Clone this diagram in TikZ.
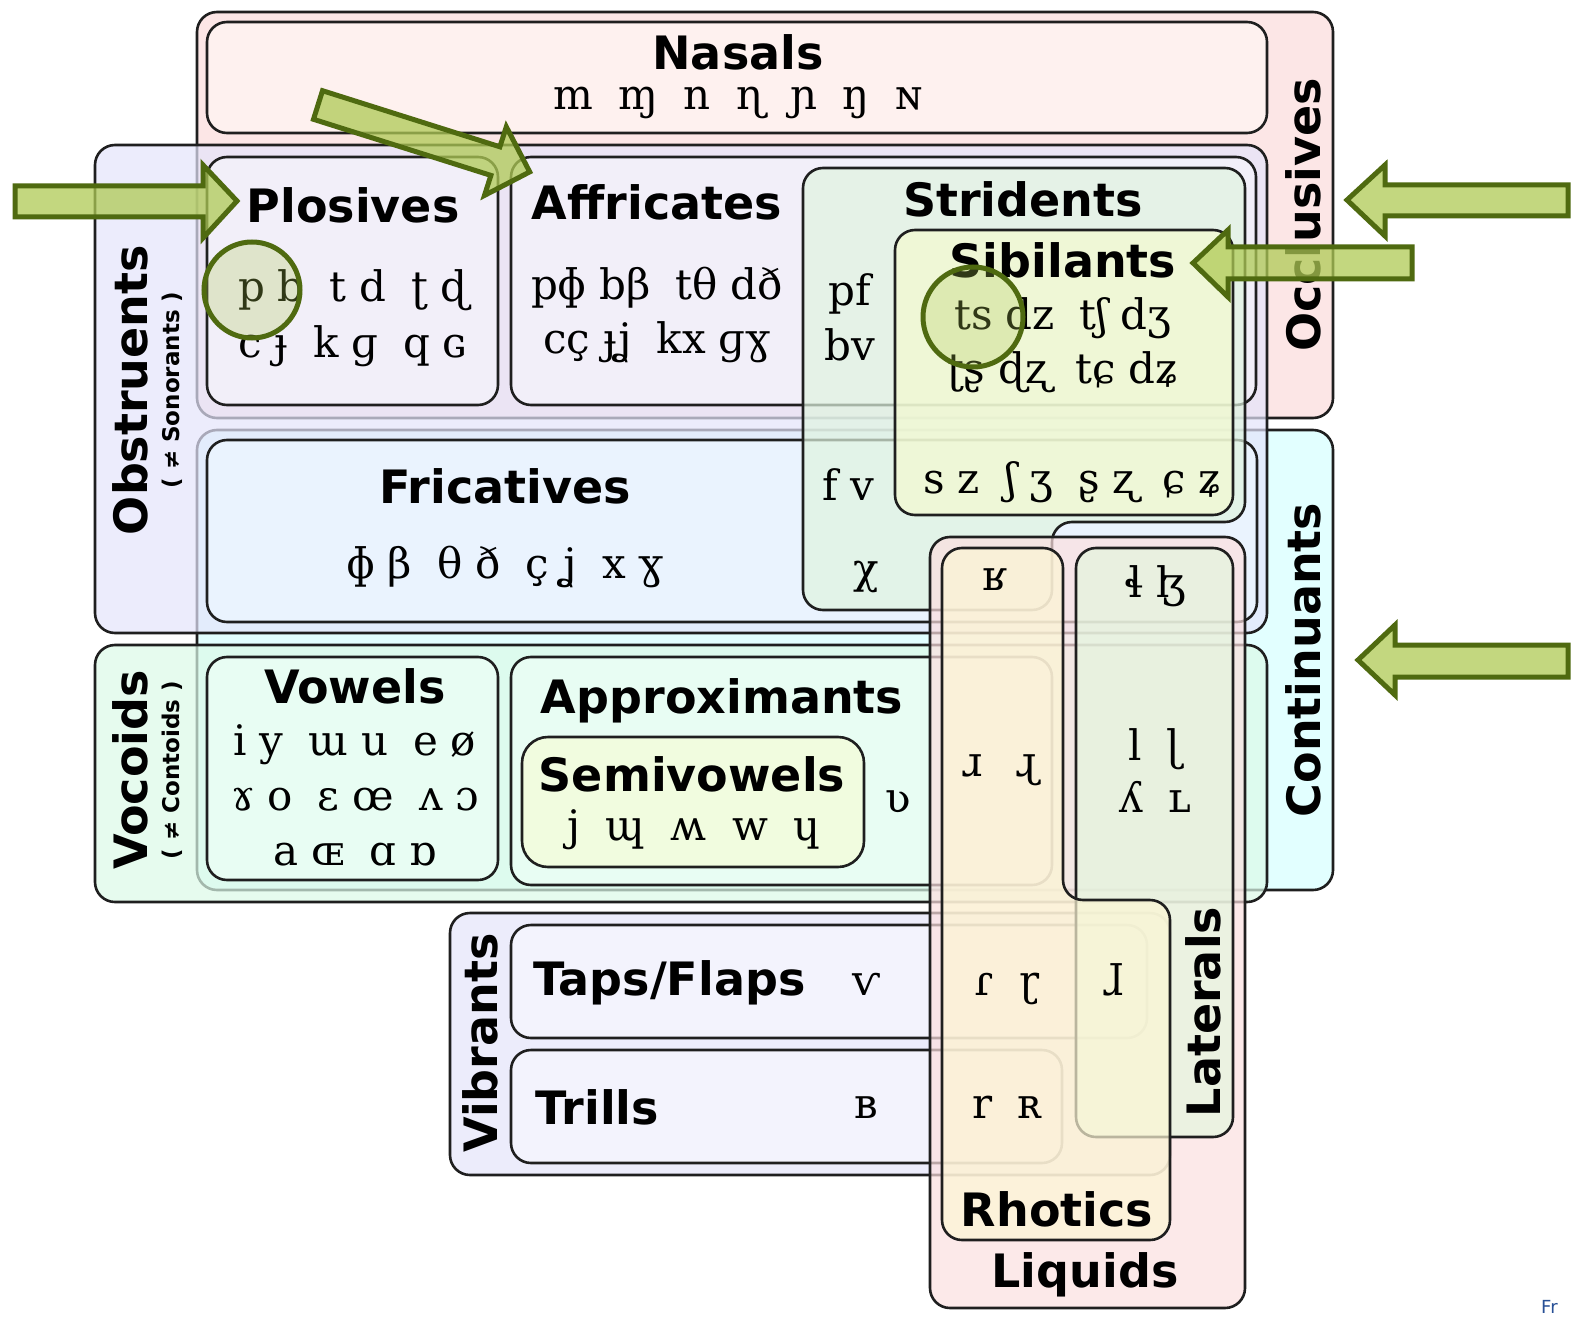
\documentclass[tikz,border=0pt]{standalone}
\usepackage{fontspec}
\setmainfont{DejaVu Sans}
\newfontfamily\ipa{DejaVu Serif}
\newcommand{\gapA}{\hspace{0.3em}}
\newcommand{\gapB}{\hspace{0.6em}}
\definecolor{cOcc}{RGB}{252,220,220}
\definecolor{cNas}{RGB}{255,246,244}
\definecolor{cObs}{RGB}{228,228,251}
\definecolor{cCon}{RGB}{214,255,255}
\definecolor{cVoc}{RGB}{220,250,232}
\definecolor{cPlo}{RGB}{246,244,252}
\definecolor{cStr}{RGB}{224,244,224}
\definecolor{cSib}{RGB}{244,250,208}
\definecolor{cFri}{RGB}{238,246,255}
\definecolor{cVow}{RGB}{238,254,246}
\definecolor{cSem}{RGB}{246,252,215}
\definecolor{cVib}{RGB}{228,228,250}
\definecolor{cTap}{RGB}{246,246,255}
\definecolor{cLiq}{RGB}{252,224,224}
\definecolor{cRho}{RGB}{252,246,212}
\definecolor{cLat}{RGB}{228,246,222}
\definecolor{arrF}{RGB}{175,202,85}
\definecolor{arrD}{RGB}{79,106,16}
\definecolor{frBlue}{RGB}{40,80,150}
\begin{document}
\begin{tikzpicture}[x=1pt,y=-1pt,
  box/.style={draw=black!88, line width=2.6pt, rounded corners=20pt, fill opacity=0.7},
  ttl/.style={font=\bfseries\fontsize{46}{50}\selectfont, inner sep=0pt},
  sml/.style={font=\bfseries\fontsize{23}{26}\selectfont, inner sep=0pt},
  ipasty/.style={font=\ipa\fontsize{42}{46}\selectfont, inner sep=0pt},
  arr/.style={draw=arrD, line width=5pt, fill=arrF, fill opacity=0.75, line join=miter},
  ring/.style={draw=arrD, line width=5pt, fill=arrF, fill opacity=0.28}]
\useasboundingbox (0,0) rectangle (1581,1321);
\fill[white] (0,0) rectangle (1581,1321);

% big classes
\draw[box, fill=cOcc] (197,12) rectangle (1333,418);
\draw[box, fill=cCon] (197,430) rectangle (1333,890);
\draw[box, fill=cObs] (95,145) rectangle (1267,633);
\draw[box, fill=cVoc] (95,645) rectangle (1267,902);
\draw[box, fill=cNas] (207,22) rectangle (1267,133);
% occlusive obstruents
\draw[box, fill=cPlo] (207,157) rectangle (498,405);
\draw[box, fill=cPlo] (511,157) rectangle (1256,405);
\draw[box, fill=cFri] (207,440) rectangle (1257,622);
\draw[box, fill=cStr] (803,300) -- (803,168) -- (1245,168) -- (1245,522) -- (1052,522) -- (1052,610) -- (803,610) -- cycle;
\draw[box, fill=cSib] (895,230) rectangle (1233,515);
% vocoids
\draw[box, fill=cVow] (207,657) rectangle (498,880);
\draw[box, fill=cVow] (511,657) rectangle (1052,885);
\draw[box, fill=cSem, rounded corners=26pt] (522,737) rectangle (864,867);
% vibrants
\draw[box, fill=cVib] (450,913) rectangle (1170,1175);
\draw[box, fill=cTap] (511,925) rectangle (1147,1038);
\draw[box, fill=cTap] (511,1050) rectangle (1062,1163);
% liquids
\draw[box, fill=cLiq] (930,537) rectangle (1245,1308);
\draw[box, fill=cLat] (1076,548) rectangle (1233,1137);
\draw[box, fill=cRho] (942,800) -- (942,548) -- (1063,548) -- (1063,900) -- (1170,900) -- (1170,1240) -- (942,1240) -- cycle;

% titles
\node[ttl, anchor=base] (tNas) at (738,70) {Nasals};
\node[ttl, anchor=base] (tPlo) at (353,223) {Plosives};
\node[ttl, anchor=base] (tAff) at (657,220) {Affricates};
\node[ttl, anchor=base] (tStr) at (1023,217) {Stridents};
\node[ttl, anchor=base] (tSib) at (1063,278) {Sibilants};
\node[ttl, anchor=base] (tFri) at (505,503) {Fricatives};
\node[ttl, anchor=base] (tVow) at (355,703) {Vowels};
\node[ttl, anchor=base] (tApp) at (722,713) {Approximants};
\node[ttl, anchor=base] (tSem) at (692,791) {Semivowels};
\node[ttl, anchor=base west] (tTap) at (533,995) {Taps/Flaps};
\node[ttl, anchor=base west] (tTri) at (535,1124) {Trills};
\node[ttl, anchor=base] (tRho) at (1057,1226) {Rhotics};
\node[ttl, anchor=base] (tLiq) at (1085,1287) {Liquids};
\node[ttl, rotate=90] (tOcc) at (1303,215) {Occlusives};
\node[ttl, rotate=90] (tCon) at (1303,660) {Continuants};
\node[ttl, rotate=90] (tObs) at (130,390) {Obstruents};
\node[sml, rotate=90] (tSon) at (172,390) {( ≠ Sonorants )};
\node[ttl, rotate=90] (tVoc) at (130,770) {Vocoids};
\node[sml, rotate=90] (tCtd) at (172,770) {( ≠ Contoids )};
\node[ttl, rotate=90] (tVib) at (480,1043) {Vibrants};
\node[ttl, rotate=90] (tLat) at (1203,1012) {Laterals};

% symbols
\node[ipasty, anchor=base] (sNas) at (738,110) {m\gapB ɱ\gapB n\gapB ɳ\gapB ɲ\gapB ŋ\gapB ɴ};
\node[ipasty, anchor=base] (sPlo1) at (353,302) {p\gapA b\gapB t\gapA d\gapB ʈ\gapA ɖ};
\node[ipasty, anchor=base] (sPlo2) at (353,357) {c\gapA ɟ\gapB k\gapA ɡ\gapB q\gapA ɢ};
\node[ipasty, anchor=base] (sAff1) at (657,300) {pɸ\gapA bβ\gapB tθ\gapA dð};
\node[ipasty, anchor=base] (sAff2) at (657,353) {cç\gapA ɟʝ\gapB kx\gapA ɡɣ};
\node[ipasty, anchor=base] (sPf) at (850,306) {pf};
\node[ipasty, anchor=base] (sBv) at (850,360) {bv};
\node[ipasty, anchor=base] (sFv) at (848,500) {f\gapA v};
\node[ipasty, anchor=base] (sChi) at (866,583) {χ};
\node[ipasty, anchor=base] (sSib1) at (1063,330) {ts\gapA dz\gapB tʃ\gapA dʒ};
\node[ipasty, anchor=base] (sSib2) at (1063,383) {ʈʂ\gapA ɖʐ\gapB tɕ\gapA dʑ};
\node[ipasty, anchor=base] (sSib3) at (1073,493) {s\gapA z\gapB ʃ\gapA ʒ\gapB ʂ\gapA ʐ\gapB ɕ\gapA ʑ};
\node[ipasty, anchor=base] (sFri) at (505,578) {ɸ\gapA β\gapB θ\gapA ð\gapB ç\gapA ʝ\gapB x\gapA ɣ};
\node[ipasty, anchor=base] (sUvr) at (995,590) {ʁ};
\node[ipasty, anchor=base] (sLfr) at (1155,597) {ɬ\gapA ɮ};
\node[ipasty, anchor=base] (sVow1) at (355,755) {i\gapA y\gapB ɯ\gapA u\gapB e\gapA ø};
\node[ipasty, anchor=base] (sVow2) at (355,810) {ɤ\gapA o\gapB ɛ\gapA œ\gapB ʌ\gapA ɔ};
\node[ipasty, anchor=base] (sVow3) at (355,865) {a\gapA ɶ\gapB ɑ\gapA ɒ};
\node[ipasty, anchor=base] (sSem) at (694,840) {j\hspace{0.6em}ɰ\hspace{0.6em}ʍ\hspace{0.6em}w\hspace{0.6em}ɥ};
\node[ipasty, anchor=base] (sUps) at (898,812) {ʋ};
\node[ipasty, anchor=base] (sRap) at (1000,776) {ɹ\hspace{0.8em}ɻ};
\node[ipasty, anchor=base] (sLap1) at (1155,760) {l\gapB ɭ};
\node[ipasty, anchor=base] (sLap2) at (1155,812) {ʎ\gapB ʟ};
\node[ipasty, anchor=base] (sLab) at (866,995) {ⱱ};
\node[ipasty, anchor=base] (sTap) at (1007,995) {ɾ\gapB ɽ};
\node[ipasty, anchor=base] (sLtp) at (1113,995) {ɺ};
\node[ipasty, anchor=base] (sBil) at (866,1118) {ʙ};
\node[ipasty, anchor=base] (sTri) at (1007,1118) {r\gapB ʀ};

% highlight arrows
\draw[arr] (15,186) -- (203,186) -- (203,165) -- (237,201) -- (203,238) -- (203,217) -- (15,217) -- cycle;
\draw[arr] (322.5,90.7) -- (499.9,146.8) -- (506.3,126.8) -- (529.7,171.9) -- (484.5,195.4) -- (490.9,175.4) -- (313.5,119.3) -- cycle;
\draw[arr] (1568,185) -- (1385,185) -- (1385,165) -- (1347,200) -- (1385,236) -- (1385,216) -- (1568,216) -- cycle;
\draw[arr] (1412,247) -- (1228,247) -- (1228,230) -- (1193,263) -- (1228,297) -- (1228,279) -- (1412,279) -- cycle;
\draw[arr] (1568,645) -- (1395,645) -- (1395,625) -- (1358,660) -- (1395,695) -- (1395,677) -- (1568,677) -- cycle;
\draw[ring] (252,290) circle (48);
\draw[ring] (973,317) circle (50);

\node[font=\fontsize{18}{20}\selectfont, text=frBlue, anchor=north west, inner sep=0pt] (fr) at (1541,1300) {Fr};
\end{tikzpicture}
\end{document}
